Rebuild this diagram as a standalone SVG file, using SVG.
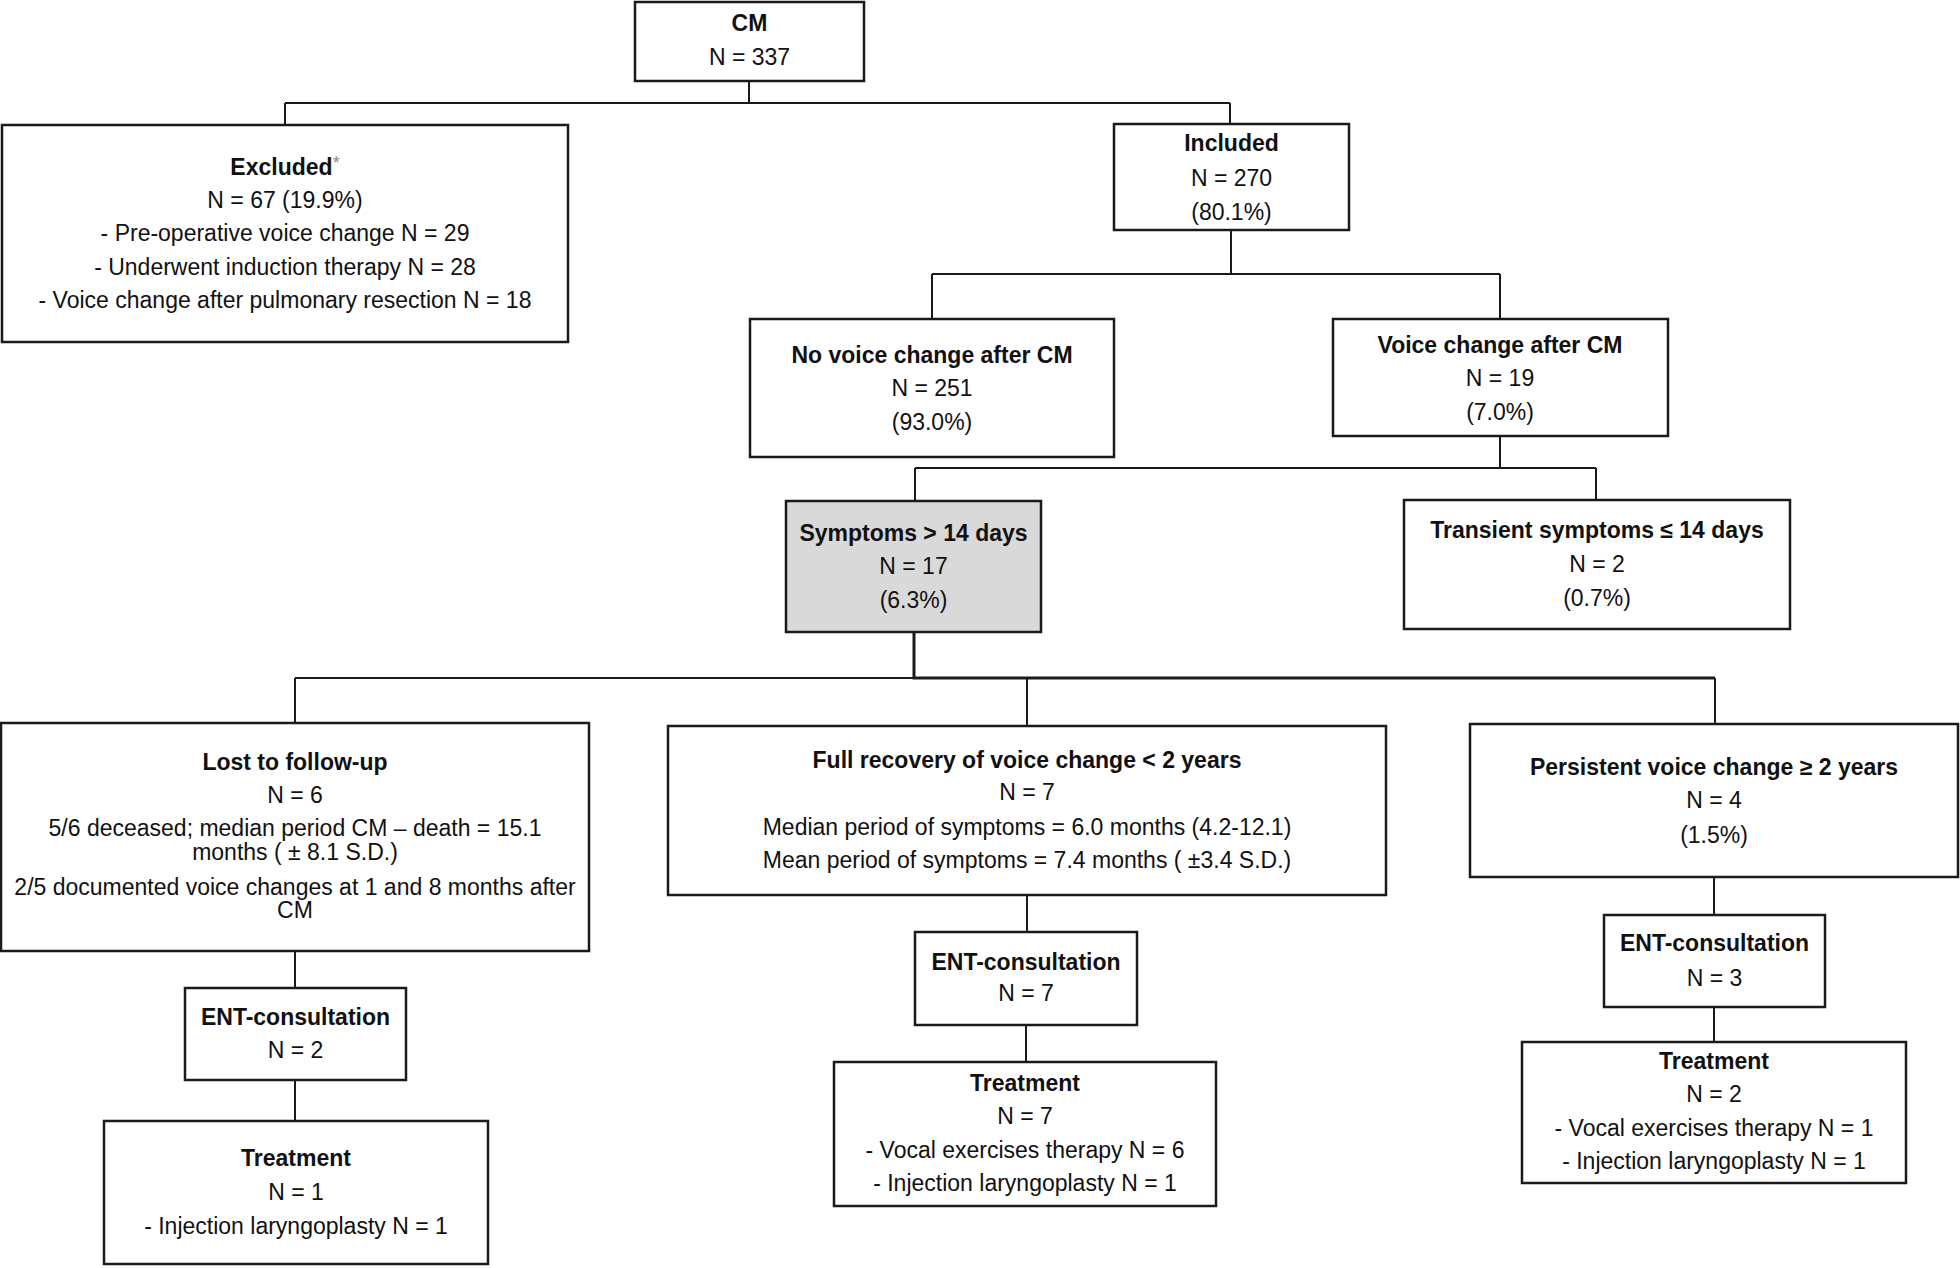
<svg xmlns="http://www.w3.org/2000/svg" width="1960" height="1268" viewBox="0 0 1960 1268">
<style>
.box{fill:#fff;stroke:#1a1a1a;stroke-width:2.5}
.grey{fill:#d9d9d9}
.t{font-family:"Liberation Sans",Arial,Helvetica,sans-serif;font-size:23px;fill:#111;text-anchor:middle}
.b{font-weight:bold}
.ln{fill:none;stroke:#1a1a1a;stroke-width:2}
.thick{stroke-width:3}
</style>
<rect width="1960" height="1268" fill="#fff"/>
<g id="connectors">
<path class="ln" d="M749,81 V103 M285,103 H1230 M285,103 V125 M1230,103 V124"/>
<path class="ln" d="M1231,230 V274 M932,274 H1500 M932,274 V319 M1500,274 V319"/>
<path class="ln" d="M1500,436 V468 M915,468 H1596 M915,468 V501 M1596,468 V500"/>
<path class="ln thick" d="M914,632 V678 H1715"/>
<path class="ln" d="M295,678 H914 M295,678 V723 M1027,678 V726 M1715,678 V724"/>
<path class="ln" d="M295,951 V988 M295,1080 V1121"/>
<path class="ln" d="M1027,895 V932 M1026,1025 V1062"/>
<path class="ln" d="M1714,877 V915 M1714,1007 V1042"/>
</g>
<g id="cm">
<rect class="box" x="635" y="2" width="229" height="79"/>
<text class="t b" x="749.5" y="31">CM</text>
<text class="t" x="749.5" y="65">N = 337</text>
</g>
<g id="excluded">
<rect class="box" x="2" y="125" width="566" height="217"/>
<text class="t b" x="285" y="175">Excluded<tspan font-size="18" dy="-6" fill="#8a8a8a" font-weight="normal">*</tspan></text>
<text class="t" x="285" y="208">N = 67 (19.9%)</text>
<text class="t" x="285" y="241">- Pre-operative voice change N = 29</text>
<text class="t" x="285" y="275">- Underwent induction therapy N = 28</text>
<text class="t" x="285" y="308">- Voice change after pulmonary resection N = 18</text>
</g>
<g id="included">
<rect class="box" x="1114" y="124" width="235" height="106"/>
<text class="t b" x="1231.5" y="151">Included</text>
<text class="t" x="1231.5" y="186">N = 270</text>
<text class="t" x="1231.5" y="220">(80.1%)</text>
</g>
<g id="no-voice-change">
<rect class="box" x="750" y="319" width="364" height="138"/>
<text class="t b" x="932" y="363">No voice change after CM</text>
<text class="t" x="932" y="396">N = 251</text>
<text class="t" x="932" y="430">(93.0%)</text>
</g>
<g id="voice-change">
<rect class="box" x="1333" y="319" width="335" height="117"/>
<text class="t b" x="1500" y="353">Voice change after CM</text>
<text class="t" x="1500" y="386">N = 19</text>
<text class="t" x="1500" y="420">(7.0%)</text>
</g>
<g id="symptoms">
<rect class="box grey" x="786" y="501" width="255" height="131"/>
<text class="t b" x="913.5" y="541">Symptoms &gt; 14 days</text>
<text class="t" x="913.5" y="574">N = 17</text>
<text class="t" x="913.5" y="608">(6.3%)</text>
</g>
<g id="transient">
<rect class="box" x="1404" y="500" width="386" height="129"/>
<text class="t b" x="1597" y="538">Transient symptoms ≤ 14 days</text>
<text class="t" x="1597" y="572">N = 2</text>
<text class="t" x="1597" y="606">(0.7%)</text>
</g>
<g id="lost">
<rect class="box" x="1" y="723" width="588" height="228"/>
<text class="t b" x="295" y="770">Lost to follow-up</text>
<text class="t" x="295" y="803">N = 6</text>
<text class="t" x="295" y="836">5/6 deceased; median period CM – death = 15.1</text>
<text class="t" x="295" y="860">months ( ± 8.1 S.D.)</text>
<text class="t" x="295" y="895">2/5 documented voice changes at 1 and 8 months after</text>
<text class="t" x="295" y="918">CM</text>
</g>
<g id="full-recovery">
<rect class="box" x="668" y="726" width="718" height="169"/>
<text class="t b" x="1027" y="768">Full recovery of voice change &lt; 2 years</text>
<text class="t" x="1027" y="800">N = 7</text>
<text class="t" x="1027" y="835">Median period of symptoms = 6.0 months (4.2-12.1)</text>
<text class="t" x="1027" y="868">Mean period of symptoms = 7.4 months ( ±3.4 S.D.)</text>
</g>
<g id="persistent">
<rect class="box" x="1470" y="724" width="488" height="153"/>
<text class="t b" x="1714" y="775">Persistent voice change ≥ 2 years</text>
<text class="t" x="1714" y="808">N = 4</text>
<text class="t" x="1714" y="843">(1.5%)</text>
</g>
<g id="ent-left">
<rect class="box" x="185" y="988" width="221" height="92"/>
<text class="t b" x="295.5" y="1025">ENT-consultation</text>
<text class="t" x="295.5" y="1058">N = 2</text>
</g>
<g id="treatment-left">
<rect class="box" x="104" y="1121" width="384" height="143"/>
<text class="t b" x="296" y="1166">Treatment</text>
<text class="t" x="296" y="1200">N = 1</text>
<text class="t" x="296" y="1234">- Injection laryngoplasty N = 1</text>
</g>
<g id="ent-mid">
<rect class="box" x="915" y="932" width="222" height="93"/>
<text class="t b" x="1026" y="970">ENT-consultation</text>
<text class="t" x="1026" y="1001">N = 7</text>
</g>
<g id="treatment-mid">
<rect class="box" x="834" y="1062" width="382" height="144"/>
<text class="t b" x="1025" y="1091">Treatment</text>
<text class="t" x="1025" y="1124">N = 7</text>
<text class="t" x="1025" y="1158">- Vocal exercises therapy N = 6</text>
<text class="t" x="1025" y="1191">- Injection laryngoplasty N = 1</text>
</g>
<g id="ent-right">
<rect class="box" x="1604" y="915" width="221" height="92"/>
<text class="t b" x="1714.5" y="951">ENT-consultation</text>
<text class="t" x="1714.5" y="986">N = 3</text>
</g>
<g id="treatment-right">
<rect class="box" x="1522" y="1042" width="384" height="141"/>
<text class="t b" x="1714" y="1069">Treatment</text>
<text class="t" x="1714" y="1102">N = 2</text>
<text class="t" x="1714" y="1136">- Vocal exercises therapy N = 1</text>
<text class="t" x="1714" y="1169">- Injection laryngoplasty N = 1</text>
</g>
</svg>
